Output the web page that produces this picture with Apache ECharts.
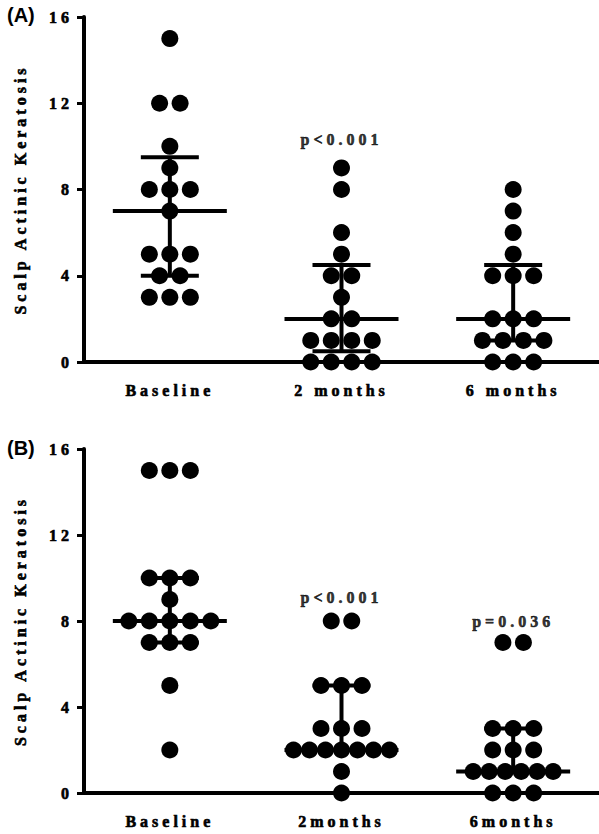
<!DOCTYPE html>
<html>
<head>
<meta charset="utf-8">
<script src="https://cdn.jsdelivr.net/npm/echarts@6/dist/echarts.min.js"></script>
<style>
  html, body { margin: 0; padding: 0; background: #fff; }
  #chart { width: 599px; height: 834px; }
  #chart svg text[style*="Liberation Serif"] { letter-spacing: 4px; }
</style>
</head>
<body>
<div id="chart"></div>
<script>
// ---- data ----
const categoriesA = ['Baseline', '2 months', '6 months'];
const categoriesB = ['Baseline', '2months', '6months'];
const yTicks = [0, 4, 8, 12, 16];

// Panel A: individual values
const aBaseline = [15, 12, 12, 10, 9, 8, 8, 8, 7, 5, 5, 5, 4, 4, 3, 3, 3];
const a2months  = [9, 8, 6, 5, 4, 4, 3, 2, 2, 1, 1, 1, 1, 0, 0, 0, 0];
const a6months  = [8, 7, 6, 5, 4, 4, 4, 2, 2, 2, 1, 1, 1, 1, 0, 0, 0];
// Panel A: median and interquartile range
const aMedian = [7, 2, 2];
const aQ1     = [4, 0.5, 1];
const aQ3     = [9.5, 4.5, 4.5];

// Panel B: individual values
const bBaseline = [15, 15, 15, 10, 10, 10, 9, 8, 8, 8, 8, 8, 7, 7, 7, 5, 2];
const b2months  = [8, 8, 5, 5, 5, 3, 3, 3, 2, 2, 2, 2, 2, 2, 2, 1, 0];
const b6months  = [7, 7, 3, 3, 3, 2, 2, 2, 1, 1, 1, 1, 1, 1, 0, 0, 0];
// Panel B: median and interquartile range
const bMedian = [8, 2, 1];
const bQ1     = [7, 2, 1];
const bQ3     = [10, 5, 3];

// p-value annotations: [category index, value, text]
const pValuesA = [[1, 10.3, 'p<0.001']];
const pValuesB = [[1, 9.1, 'p<0.001'], [2, 8, 'p=0.036']];

// ---- presentation ----
const SERIF = '"Liberation Serif", "Times New Roman", serif';
const SANS = '"Liberation Sans", Arial, sans-serif';
const TXT = {
  color: '#000', fontFamily: SERIF, fontWeight: 'bold', fontSize: 16,
  textBorderColor: '#000', textBorderWidth: 0.6
};

// spread equal values horizontally like a scatter dot plot
function dotData(groups) {
  const out = [];
  groups.forEach((vals, ci) => {
    const counts = {};
    vals.forEach(v => { counts[v] = (counts[v] || 0) + 1; });
    const seen = {};
    vals.forEach(v => {
      const n = counts[v];
      const i = seen[v] || 0;
      seen[v] = i + 1;
      const step = n > 5 ? 16 : 20.5;
      out.push({ value: [ci, v], symbolOffset: [(i - (n - 1) / 2) * step, 0] });
    });
  });
  return out;
}

function barData(med, q1, q3) {
  return med.map((m, i) => [i, m, q1[i], q3[i]]);
}

function renderBars(params, api) {
  const ci = api.value(0);
  const pm = api.coord([ci, api.value(1)]);
  const p1 = api.coord([ci, api.value(2)]);
  const p3 = api.coord([ci, api.value(3)]);
  const st = { stroke: '#000', lineWidth: 4 };
  const wMed = 57, wQ = 29;
  return {
    type: 'group',
    children: [
      { type: 'line', shape: { x1: pm[0] - wMed, y1: pm[1], x2: pm[0] + wMed, y2: pm[1] }, style: st },
      { type: 'line', shape: { x1: p1[0] - wQ, y1: p1[1], x2: p1[0] + wQ, y2: p1[1] }, style: st },
      { type: 'line', shape: { x1: p3[0] - wQ, y1: p3[1], x2: p3[0] + wQ, y2: p3[1] }, style: st },
      { type: 'line', shape: { x1: p1[0], y1: p1[1], x2: p3[0], y2: p3[1] }, style: st }
    ]
  };
}

function xAxisCfg(gi, cats) {
  return {
    type: 'category', gridIndex: gi, data: cats,
    axisLine: { lineStyle: { color: '#000', width: 4 } },
    axisTick: { alignWithLabel: true, length: 8, lineStyle: { color: '#000', width: 3 } },
    axisLabel: Object.assign({ margin: 20 }, TXT),
    splitLine: { show: false }
  };
}
function yAxisCfg(gi) {
  return {
    type: 'value', gridIndex: gi, min: yTicks[0], max: yTicks[yTicks.length - 1], interval: 4,
    name: 'Scalp Actinic Keratosis', nameLocation: 'middle', nameGap: 56,
    nameTextStyle: Object.assign({}, TXT),
    axisLine: { show: true, lineStyle: { color: '#000', width: 4 } },
    axisTick: { show: true, length: 7, lineStyle: { color: '#000', width: 3 } },
    axisLabel: Object.assign({ margin: 11 }, TXT),
    splitLine: { show: false }
  };
}
function dots(gi, groups) {
  return {
    type: 'scatter', xAxisIndex: gi, yAxisIndex: gi, clip: false,
    symbol: 'circle', symbolSize: 17, itemStyle: { color: '#000', opacity: 1 },
    data: dotData(groups), z: 3
  };
}
function bars(gi, med, q1, q3) {
  return {
    type: 'custom', xAxisIndex: gi, yAxisIndex: gi, clip: false,
    renderItem: renderBars, data: barData(med, q1, q3), z: 4,
    encode: { x: 0, y: [1, 2, 3] }
  };
}
function pLabels(gi, list) {
  return {
    type: 'scatter', xAxisIndex: gi, yAxisIndex: gi, clip: false,
    symbolSize: 0, silent: true,
    data: list.map(p => ({ value: [p[0], p[1]], name: p[2] })),
    label: Object.assign({ show: true, position: 'inside', formatter: p => p.name }, TXT)
  };
}

const chart = echarts.init(document.getElementById('chart'), null, { renderer: 'svg' });
chart.setOption({
  animation: false,
  backgroundColor: '#fff',
  grid: [
    { left: 84, top: 17, width: 517, height: 345 },
    { left: 84, top: 449, width: 517, height: 344 }
  ],
  xAxis: [xAxisCfg(0, categoriesA), xAxisCfg(1, categoriesB)],
  yAxis: [yAxisCfg(0), yAxisCfg(1)],
  graphic: [
    { type: 'text', left: 7, top: 5, style: { text: '(A)', font: 'bold 20px ' + SANS, fill: '#000' } },
    { type: 'text', left: 7, top: 438, style: { text: '(B)', font: 'bold 20px ' + SANS, fill: '#000' } }
  ],
  series: [
    dots(0, [aBaseline, a2months, a6months]),
    bars(0, aMedian, aQ1, aQ3),
    pLabels(0, pValuesA),
    dots(1, [bBaseline, b2months, b6months]),
    bars(1, bMedian, bQ1, bQ3),
    pLabels(1, pValuesB)
  ]
});
</script>
</body>
</html>
